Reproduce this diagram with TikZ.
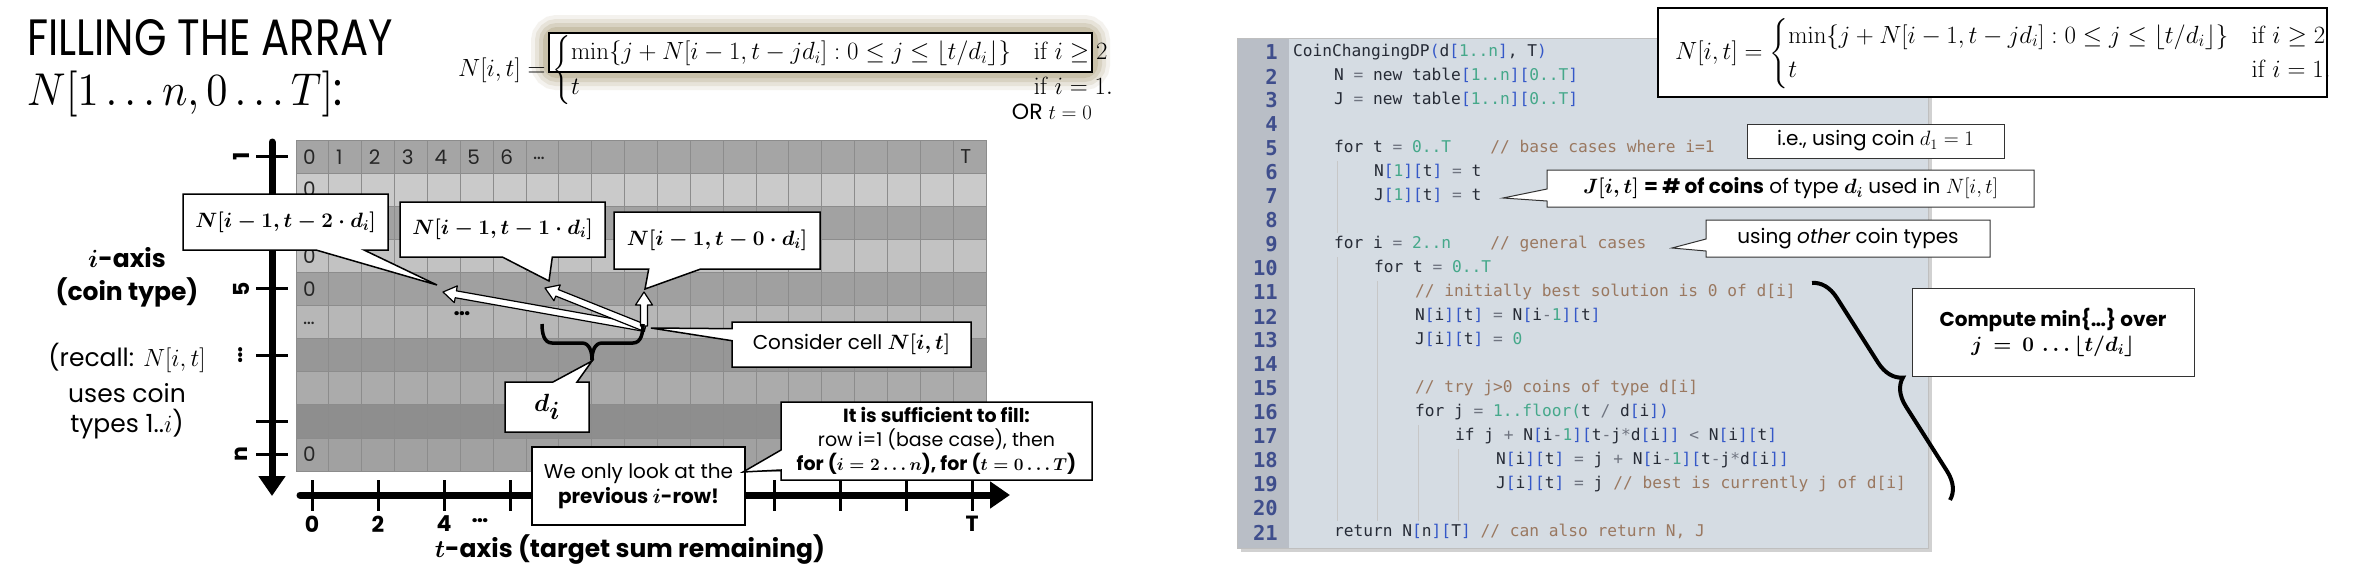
\documentclass[tikz,border=0pt]{standalone}
\usepackage{amsmath,amssymb}
\usepackage{graphicx}
\usepackage[no-math]{fontspec}
\setmainfont{Poppins}
\newfontfamily\codefont{DejaVu Sans Mono}
\usetikzlibrary{positioning,calc,arrows.meta,shapes.callouts,decorations.pathreplacing}

\definecolor{row0}{HTML}{A5A5A5}
\definecolor{row1}{HTML}{CACACA}
\definecolor{row2}{HTML}{A2A2A2}
\definecolor{row3}{HTML}{C2C2C2}
\definecolor{row4}{HTML}{A0A0A0}
\definecolor{row5}{HTML}{B7B7B7}
\definecolor{row6}{HTML}{979797}
\definecolor{row7}{HTML}{ABABAB}
\definecolor{row8}{HTML}{8E8E8E}
\definecolor{row9}{HTML}{A1A1A1}
\definecolor{glow}{HTML}{B3A988}
\definecolor{codebg}{HTML}{D5DCE3}
\definecolor{codegutter}{HTML}{B9BEC6}
\definecolor{codenum}{HTML}{3F4E8C}
\definecolor{codeid}{HTML}{262B36}
\definecolor{codebr}{HTML}{3558C8}
\definecolor{codelit}{HTML}{45A88A}
\definecolor{codeop}{HTML}{6F7480}
\definecolor{codecom}{HTML}{9A7860}

\newcommand\cbr[1]{\textcolor{codebr}{#1}}
\newcommand\clit[1]{\textcolor{codelit}{#1}}
\newcommand\cop[1]{\textcolor{codeop}{#1}}
\newcommand\ccom[1]{\textcolor{codecom}{#1}}

\newcommand\recform{$N[i,t]=\begin{cases}\min\{j+N[i-1,t-jd_i]:0\le j\le\lfloor t/d_i\rfloor\} & \mathrm{if}\ i\ge 2\\ t & \mathrm{if}\ i=1.\end{cases}$}

\tikzset{
  celltext/.style={font=\fontsize{20}{20}\selectfont, text=black!85, inner sep=0pt, anchor=west},
  gridline/.style={draw=black!45, line width=0.8pt},
  axisline/.style={line width=7pt, line cap=round},
  axistick/.style={line width=3pt},
  ticklabel/.style={font=\fontsize{22}{22}\selectfont\bfseries, inner sep=0pt},
  sidelabel/.style={font=\fontsize{25}{25}\selectfont, inner sep=0pt},
  callbox/.style={rectangle callout, draw=black, line width=1.5pt, fill=white, inner sep=2pt, align=center},
  notebox/.style={rectangle callout, draw=black!80, line width=1pt, fill=white, inner sep=2pt, align=center, font=\fontsize{20}{24}\selectfont},
  fatarrow/.style={draw=black, line width=1.2pt, fill=white, line join=round},
  codeline/.style={font=\codefont\fontsize{16.2}{16}\selectfont, text=codeid, anchor=west, inner sep=0pt, text height=12pt, text depth=3.5pt},
  linenum/.style={font=\codefont\bfseries\fontsize{20.5}{20}\selectfont, text=codenum, anchor=east, inner sep=0pt},
  indentguide/.style={draw=black!22, line width=1pt},
}

\newcommand\fatarrow[2]{%
  \coordinate (fa-h) at ($(#2)!13pt!(#1)$);
  \draw[fatarrow] ($(#1)!3.5pt!90:(#2)$) -- ($(fa-h)!3.5pt!90:(#2)$) -- ($(fa-h)!8.5pt!90:(#2)$)
    -- (#2) -- ($(fa-h)!8.5pt!-90:(#2)$) -- ($(fa-h)!3.5pt!-90:(#2)$) -- ($(#1)!3.5pt!-90:(#2)$) -- cycle;
}

\begin{document}
\begin{tikzpicture}[x=1pt,y=-1pt]
\useasboundingbox (0,0) rectangle (2354,574);
\fill[white] (0,0) rectangle (2354,574);

% title
\node[anchor=north west, inner sep=0pt] (title) at (27,19) {\resizebox{366pt}{36pt}{FILLING THE ARRAY}};
\node[anchor=north west, inner sep=0pt] (arrayname) at (27,71) {\resizebox*{315pt}{46pt}{$N[1\ldots n,0\ldots T]$:}};

% recurrence, first case highlighted
\foreach \w/\o in {36/0.14, 28/0.2, 20/0.28, 12/0.4}
  \draw[glow, line width=\w pt, opacity=\o, rounded corners=8pt] (549,33) rectangle (1092,72);
\fill[white] (549,33) rectangle (1092,72);
\node[anchor=west, inner sep=0pt, font=\fontsize{23}{29}\selectfont] (lform) at (458,70) {\recform};
\draw[line width=2pt] (549,33) rectangle (1092,72);
\node[anchor=east, inner sep=0pt, font=\fontsize{22}{22}\selectfont] (orcase) at (1092,112) {OR $t=0$};

% the array
\foreach \r in {0,...,9}
  \fill[row\r] (296,{140+33.1*\r}) rectangle ++(690,33.1);
\foreach \k in {0,...,21}
  \draw[gridline] ({296+32.857*\k},140) -- ++(0,331);
\foreach \k in {0,...,10}
  \draw[gridline] (296,{140+33.1*\k}) -- ++(690,0);

\foreach \k in {0,...,6}
  \node[celltext] (head\k) at ({303+32.857*\k},157) {\k};
\node[celltext] (headdots) at ({303+32.857*7},158) {\ldots};
\node[celltext] (headT) at ({303+32.857*20},157) {T};
\foreach \r in {1,3,4,9}
  \node[celltext] (zero\r) at (303,{156.5+33.1*\r}) {0};
\node[celltext] (rowdots) at (303,{158+33.1*5}) {\ldots};
\node[font=\fontsize{22}{22}\selectfont\bfseries, inner sep=0pt] (griddots) at (462,314) {\ldots};

% i-axis
\coordinate (itop) at (272,142);
\coordinate (ibot) at (272,496);
\draw[axisline, -{Triangle[length=20pt,width=26pt]}] (itop) -- (ibot);
\foreach \r in {0,4,6,8,9}
  \draw[axistick] (256,{156.5+33.1*\r}) -- (288,{156.5+33.1*\r});
\node[ticklabel, rotate=90] (ione) at (241,156.5) {1};
\node[ticklabel, rotate=90] (ifive) at (241,289) {5};
\node[ticklabel, rotate=90] (idots) at (241,355) {\ldots};
\node[ticklabel, rotate=90] (ien) at (241,454) {n};

\node[sidelabel, font=\fontsize{25}{25}\selectfont\bfseries] (iaxis) at (127,258) {$\boldsymbol{i}$-axis};
\node[sidelabel, font=\fontsize{25}{25}\selectfont\bfseries] (cointype) at (127,292) {(coin type)};
\node[sidelabel] (recall) at (127,358) {(recall: $N[i,t]$};
\node[sidelabel] (usescoin) at (127,393) {uses coin};
\node[sidelabel] (types) at (127,424) {types 1..$i$)};

% t-axis
\coordinate (tleft) at (300,495);
\coordinate (tright) at (1010,495);
\draw[axisline, -{Triangle[length=20pt,width=26pt]}] (tleft) -- (tright);
\foreach \k in {0,...,10}
  \draw[axistick] ({312+66*\k},480) -- ({312+66*\k},511);
\node[ticklabel] (tzero) at (312,524) {0};
\node[ticklabel] (ttwo) at (378,524) {2};
\node[ticklabel] (tfour) at (444,524) {4};
\node[ticklabel] (tdots) at (480,521) {\ldots};
\node[ticklabel] (tT) at (972,524) {T};
\node[inner sep=0pt, font=\fontsize{25}{25}\selectfont\bfseries] (taxis) at (630,550) {$\boldsymbol{t}$-axis (target sum remaining)};

% lookups from cell N[i,t]
\coordinate (cellbase) at (645,328);
\coordinate (upbase) at (644,326);
\coordinate (tip2) at (443,292);
\coordinate (tip1) at (545,288);
\coordinate (tip0) at (644,292);
\fatarrow{cellbase}{tip2}
\fatarrow{cellbase}{tip1}
\fatarrow{upbase}{tip0}

\draw[line width=3.5pt, line join=round] (542,324) to[out=-90,in=180] (552,343) -- (582,343)
  to[out=0,in=90] (592,360) to[out=90,in=180] (602,343) -- (633,343) to[out=0,in=-90] (643,324);
\coordinate (dcusp) at (592,361);

\coordinate (ptr2) at (437,285);
\coordinate (ptr1) at (549,281);
\coordinate (ptr0) at (645,289);
\coordinate (ptrcell) at (651,328);
\coordinate (ptronly) at (743,472);
\node[callbox, callout absolute pointer={(ptr2)}, callout pointer width=48pt, minimum width=205pt, minimum height=56pt, font=\fontsize{21}{21}\selectfont] (prevtwo) at (285.5,222) {$\boldsymbol{N[i-1,t-2\cdot d_i]}$};
\node[callbox, callout absolute pointer={(ptr1)}, callout pointer width=50pt, minimum width=205pt, minimum height=55pt, font=\fontsize{21}{21}\selectfont] (prevone) at (502.5,229.5) {$\boldsymbol{N[i-1,t-1\cdot d_i]}$};
\node[callbox, callout absolute pointer={(ptr0)}, callout pointer width=52pt, minimum width=206pt, minimum height=57pt, font=\fontsize{21}{21}\selectfont] (prevzero) at (717,240.5) {$\boldsymbol{N[i-1,t-0\cdot d_i]}$};
\node[callbox, callout absolute pointer={(dcusp)}, callout pointer width=24pt, minimum width=84pt, minimum height=50pt, font=\fontsize{34}{34}\selectfont] (dlabel) at (547,407) {$\boldsymbol{d_i}$};
\node[callbox, callout absolute pointer={(ptrcell)}, callout pointer width=12pt, minimum width=239pt, minimum height=45pt, font=\fontsize{20}{20}\selectfont] (considercell) at (851.5,344.5) {Consider cell $\boldsymbol{N[i,t]}$};
\node[draw=black, line width=1.5pt, fill=white, align=center, minimum width=213pt, minimum height=78pt, inner sep=2pt, font=\fontsize{20}{25}\selectfont] (onlyprev) at (638.5,486) {We only look at the\\ \textbf{previous $\boldsymbol{i}$-row!}};
\node[callbox, callout absolute pointer={(ptronly)}, callout pointer width=20pt, minimum width=311pt, minimum height=78pt, font=\fontsize{19}{24}\selectfont] (sufficient) at (936.5,441) {\textbf{It is sufficient to fill:}\\ row i=1 (base case), then\\ \textbf{for ($\boldsymbol{i=2\ldots n}$), for ($\boldsymbol{t=0\ldots T}$)}};

% code panel
\fill[black!18] (1241,42) rectangle (1932,552);
\fill[codebg] (1237,38) rectangle (1928,548);
\fill[codegutter] (1237,38) rectangle (1289,548);
\draw[black!25, line width=1pt] (1237,38) rectangle (1928,548);
\foreach \k in {1,...,21}
  \node[linenum] (ln\k) at (1278,{52.5+24*(\k-1)}) {\k};
\draw[indentguide] (1337,161) -- (1337,233);
\draw[indentguide] (1337,257) -- (1337,521);
\draw[indentguide] (1377,281) -- (1377,521);
\draw[indentguide] (1418,425) -- (1418,521);
\draw[indentguide] (1458,449) -- (1458,521);

\node[codeline] (code1) at (1293,52.5) {CoinChangingDP\cbr{(}d\cbr{[}\clit{1..n}\cbr{]}, T\cbr{)}};
\node[codeline] (code2) at (1334,76.5) {N \cop{=} new table\cbr{[}\clit{1..n}\cbr{][}\clit{0..T}\cbr{]}};
\node[codeline] (code3) at (1334,100.5) {J \cop{=} new table\cbr{[}\clit{1..n}\cbr{][}\clit{0..T}\cbr{]}};
\node[codeline] (code5) at (1334,148.5) {for t \cop{=} \clit{0..T}~~~~\ccom{// base cases where i=1}};
\node[codeline] (code6) at (1374,172.5) {N\cbr{[}\clit{1}\cbr{][}t\cbr{]} \cop{=} t};
\node[codeline] (code7) at (1374,196.5) {J\cbr{[}\clit{1}\cbr{][}t\cbr{]} \cop{=} t};
\node[codeline] (code9) at (1334,244.5) {for i \cop{=} \clit{2..n}~~~~\ccom{// general cases}};
\node[codeline] (code10) at (1374,268.5) {for t \cop{=} \clit{0..T}};
\node[codeline] (code11) at (1415,292.5) {\ccom{// initially best solution is 0 of d[i]}};
\node[codeline] (code12) at (1415,316.5) {N\cbr{[}i\cbr{][}t\cbr{]} \cop{=} N\cbr{[}i\cop{-}\clit{1}\cbr{][}t\cbr{]}};
\node[codeline] (code13) at (1415,340.5) {J\cbr{[}i\cbr{][}t\cbr{]} \cop{=} \clit{0}};
\node[codeline] (code15) at (1415,388.5) {\ccom{// try j>0 coins of type d[i]}};
\node[codeline] (code16) at (1415,412.5) {for j \cop{=} \clit{1..floor(}t \cop{/} d\cbr{[}i\cbr{])}};
\node[codeline] (code17) at (1455,436.5) {if j \cop{+} N\cbr{[}i\cop{-}\clit{1}\cbr{][}t\cop{-}j\cop{*}d\cbr{[}i\cbr{]]} \cop{<} N\cbr{[}i\cbr{][}t\cbr{]}};
\node[codeline] (code18) at (1496,460.5) {N\cbr{[}i\cbr{][}t\cbr{]} \cop{=} j \cop{+} N\cbr{[}i\cop{-}\clit{1}\cbr{][}t\cop{-}j\cop{*}d\cbr{[}i\cbr{]]}};
\node[codeline] (code19) at (1496,484.5) {J\cbr{[}i\cbr{][}t\cbr{]} \cop{=} j \ccom{// best is currently j of d[i]}};
\node[codeline] (code21) at (1334,532.5) {return N\cbr{[}n\cbr{][}T\cbr{]} \ccom{// can also return N, J}};

% recurrence, top right
\node[draw, line width=2pt, fill=white, minimum width=669pt, minimum height=89pt, inner sep=0pt] (rbox) at (1992.5,52.5) {};
\node[anchor=west, inner sep=0pt, font=\fontsize{23.4}{29}\selectfont] (rform) at (1675,53.5) {\recform};

% notes on the code
\coordinate (ptrj) at (1503,198);
\coordinate (ptrother) at (1672,248);
\coordinate (rbtop) at (1812,283);
\coordinate (rbbot) at (1950,500);
\node[draw=black!80, line width=1pt, fill=white, minimum width=257pt, minimum height=34pt, inner sep=2pt, font=\fontsize{20}{20}\selectfont] (coinone) at (1875.5,141) {i.e., using coin $d_1=1$};
\node[notebox, callout absolute pointer={(ptrj)}, callout pointer width=12pt, minimum width=487pt, minimum height=37pt] (jcount) at (1790.5,188.5) {$\boldsymbol{J[i,t]}$ \textbf{= \# of coins} of type $\boldsymbol{d_i}$ used in $N[i,t]$};
\node[notebox, callout absolute pointer={(ptrother)}, callout pointer width=12pt, minimum width=284pt, minimum height=37pt] (othertypes) at (1848,238.5) {using \textit{other} coin types};
\draw[decorate, decoration={brace, amplitude=26pt}, line width=4pt] (rbtop) -- (rbbot);
\node[draw=black!80, line width=1pt, fill=white, align=center, minimum width=282pt, minimum height=88pt, inner sep=2pt, font=\fontsize{20}{25}\selectfont\bfseries] (computemin) at (2053,332) {Compute min\{\ldots\} over\\ $\boldsymbol{j\ =\ 0\ \ldots\lfloor t/d_i\rfloor}$};
\end{tikzpicture}
\end{document}
